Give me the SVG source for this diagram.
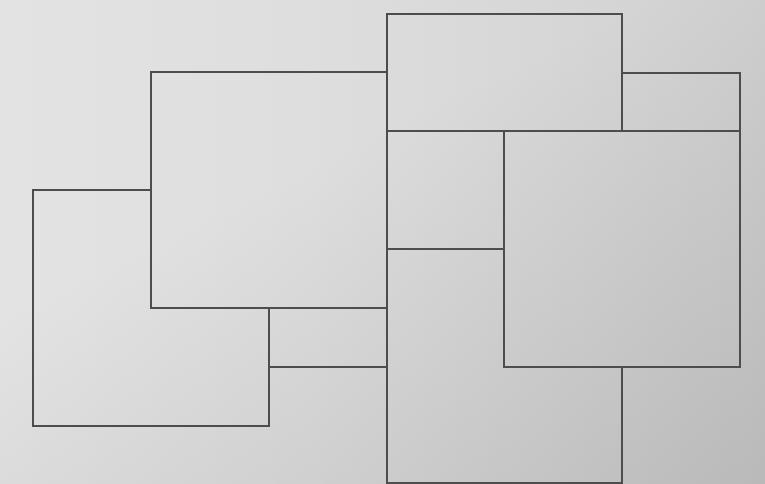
<svg xmlns="http://www.w3.org/2000/svg" width="765" height="484" viewBox="0 0 765 484">
  <defs>
    <linearGradient id="bg" x1="0" y1="0" x2="1" y2="0">
      <stop offset="0" stop-color="#e3e3e3"/>
      <stop offset="0.4" stop-color="#dedede"/>
      <stop offset="1" stop-color="#d0d0d0"/>
    </linearGradient>
    <linearGradient id="shade" x1="0.45" y1="0.3" x2="1" y2="1">
      <stop offset="0" stop-color="#000" stop-opacity="0"/>
      <stop offset="1" stop-color="#000" stop-opacity="0.11"/>
    </linearGradient>
    <style>
      .edge { fill: none; stroke: #4d4d4d; stroke-width: 2; stroke-linecap: square; stroke-linejoin: miter; }
    </style>
  </defs>
  <rect x="0" y="0" width="765" height="484" fill="url(#bg)"/>
  <rect x="0" y="0" width="765" height="484" fill="url(#shade)"/>
  <g id="tile-large-left"><path class="edge" d="M151,308 V72 H387 V308 Z"/></g>
  <g id="tile-left"><path class="edge" d="M151,190 H33 V426 H269 V308"/></g>
  <g id="tile-small-left"><path class="edge" d="M269,367 H387"/></g>
  <g id="divider"><path class="edge" d="M387,14 V484"/></g>
  <g id="tile-top"><path class="edge" d="M387,14 H622 V131 M387,131 H740"/></g>
  <g id="tile-top-right"><path class="edge" d="M622,73 H740 V131"/></g>
  <g id="tile-middle-small"><path class="edge" d="M504,131 V249 H387"/></g>
  <g id="tile-large-right"><path class="edge" d="M504,249 V367 H740 V131"/></g>
  <g id="tile-bottom"><path class="edge" d="M622,367 V483 H387"/></g>
</svg>
